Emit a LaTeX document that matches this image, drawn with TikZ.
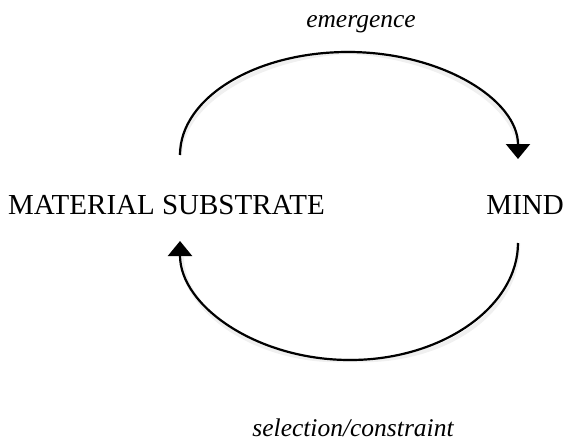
\documentclass[tikz,border=0pt]{standalone}
\usepackage{fontspec}
\setmainfont{Liberation Serif}
\usetikzlibrary{arrows.meta}
\tikzset{
  caps/.style={font=\fontsize{29}{31}\selectfont, inner sep=0pt},
  lbl/.style={font=\fontsize{25.5}{27}\selectfont\itshape, inner sep=0pt},
  flow/.style={line width=2.2pt, -{Triangle[width=24pt,length=15pt]}},
  shade/.style={line width=4pt, black, opacity=0.06},
}
\begin{document}
\begin{tikzpicture}[x=1pt,y=-1pt]
\useasboundingbox (0,0) rectangle (565,442);
\node[caps, anchor=base west] (mat) at (8,214) {MATERIAL SUBSTRATE};
\node[caps, anchor=base east] (mind) at (564,214) {MIND};
\node[lbl, anchor=base] (em) at (361,27) {emergence};
\node[lbl, anchor=base] (sel) at (353,436) {selection/constraint};
\coordinate (tl) at (180,155);
\coordinate (tp) at (348,52);
\coordinate (tr) at (518,159);
\coordinate (br) at (518,243);
\coordinate (bp) at (350,360);
\coordinate (bl) at (180,241);
% soft shadows
\begin{scope}[shift={(2,5)}]
\draw[shade] (tl) .. controls (180,98) and (255,52) .. (tp) .. controls (442,52) and (518,100) .. (518,150);
\draw[shade] (br) .. controls (518,306) and (443,360) .. (bp) .. controls (257,360) and (180,306) .. (180,252);
\end{scope}
\draw[flow] (tl) .. controls (180,98) and (255,52) .. (tp) .. controls (442,52) and (518,100) .. (tr);
\draw[flow] (br) .. controls (518,306) and (443,360) .. (bp) .. controls (257,360) and (180,306) .. (bl);
\end{tikzpicture}
\end{document}
